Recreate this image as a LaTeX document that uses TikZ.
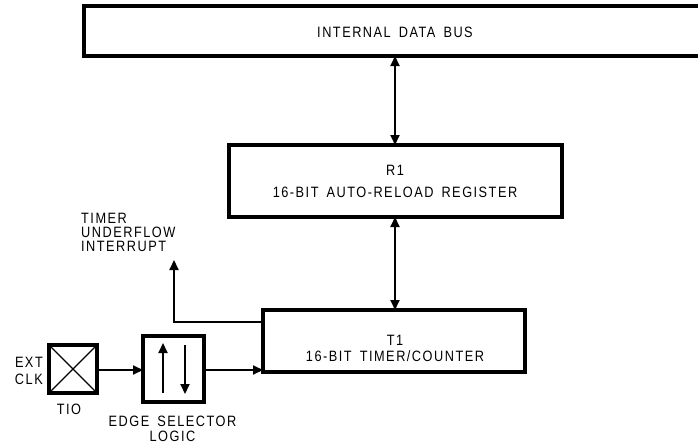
\documentclass[tikz,border=0pt]{standalone}
\usepackage{fontspec}
\setmainfont{Liberation Sans}[FakeStretch=0.85,LetterSpace=10,WordSpace=1.6]
\usetikzlibrary{arrows.meta}
\begin{document}
\begin{tikzpicture}[x=1pt,y=-1pt,
  box/.style={line width=3.2pt},
  conn/.style={line width=2pt},
  tip/.style={-{Triangle[length=10pt,width=9pt]}},
  bitip/.style={{Triangle[length=10pt,width=9pt]}-{Triangle[length=10pt,width=9pt]}},
  lbl/.style={inner sep=0pt,font=\fontsize{15}{17}\selectfont}]
\useasboundingbox (0,0) rectangle (698,444);
% internal data bus (open to the right)
\draw[box] (700,6) -- (84,6) -- (84,56) -- (700,56);
\node[lbl] (busl) at (395,32) {INTERNAL DATA BUS};
\coordinate (busb) at (395,56);
% R1
\draw[box] (229,145) rectangle (562,217);
\coordinate (r1t) at (395,145);
\coordinate (r1b) at (395,217);
\node[lbl,align=center,font=\fontsize{15}{22}\selectfont] (r1) at (395,181) {R1\\16-BIT AUTO-RELOAD REGISTER};
% T1
\draw[box] (263,310) rectangle (525,372);
\coordinate (t1t) at (395,310);
\coordinate (t1l) at (263,370);
\coordinate (t1ul) at (263,322);
\node[lbl,align=center,font=\fontsize{15}{15.5}\selectfont] (t1) at (395,348.5) {T1\\16-BIT TIMER/COUNTER};
% connectors
\draw[conn,bitip] (busb) -- (r1t);
\draw[conn,bitip] (r1b) -- (t1t);
% underflow
\coordinate (uf) at (174,260);
\draw[conn,tip] (t1ul) -- (174,322) -- (uf);
\node[lbl,align=left,anchor=north west,font=\fontsize{15}{14}\selectfont] (ufl) at (81,213) {TIMER\\UNDERFLOW\\INTERRUPT};
% TIO
\draw[box] (49,345) rectangle (97,393);
\draw[line width=1.4pt] (49,345) -- (97,393) (49,393) -- (97,345);
\coordinate (tior) at (97,370);
\node[lbl,align=right,anchor=east,font=\fontsize{15}{16.5}\selectfont] (ext) at (43,371) {EXT\\CLK};
\node[lbl] (tio) at (69,409) {TIO};
% edge selector
\draw[box] (143,336) rectangle (204,402);
\coordinate (esl) at (143,370);
\coordinate (esr) at (204,370);
\draw[conn,tip] (163,393) -- (163,343);
\draw[conn,tip] (185,345) -- (185,394);
\node[lbl,align=center,font=\fontsize{15}{15}\selectfont] (esll) at (172.5,428.5) {EDGE SELECTOR\\LOGIC};
\draw[conn,tip] (tior) -- (esl);
\draw[conn,tip] (esr) -- (t1l);
\end{tikzpicture}
\end{document}
